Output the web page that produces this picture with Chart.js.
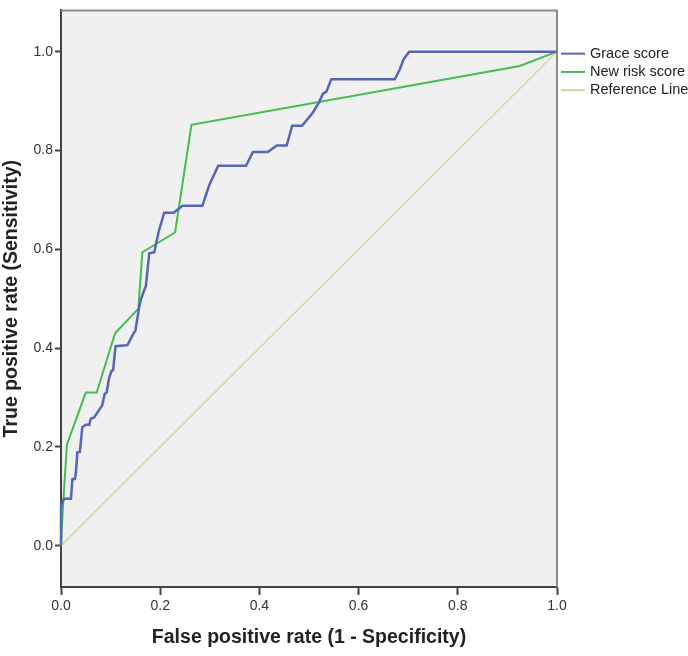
<!DOCTYPE html>
<html><head><meta charset="utf-8">
<script src="https://cdn.jsdelivr.net/npm/chart.js@4/dist/chart.umd.min.js"></script>
<style>html,body{margin:0;padding:0;background:#fff}canvas{display:block}</style>
</head><body>
<canvas id="c" width="688" height="656"></canvas>
<script>
const seriesNames = ['Grace score', 'New risk score', 'Reference Line'];
const graceFpr = [0,0,0.006,0.02,0.023,0.028,0.03,0.033,0.038,0.043,0.05,0.057,0.06,0.067,0.083,0.088,0.092,0.097,0.102,0.105,0.11,0.134,0.147,0.15,0.158,0.161,0.168,0.171,0.178,0.188,0.197,0.208,0.227,0.245,0.285,0.299,0.317,0.373,0.387,0.417,0.435,0.455,0.466,0.486,0.508,0.52,0.528,0.535,0.545,0.673,0.683,0.691,0.702,1];
const graceTpr = [0,0.08,0.095,0.095,0.135,0.135,0.148,0.189,0.19,0.24,0.245,0.245,0.257,0.26,0.284,0.307,0.31,0.34,0.354,0.355,0.404,0.406,0.431,0.435,0.485,0.498,0.518,0.525,0.592,0.594,0.636,0.674,0.674,0.688,0.688,0.73,0.769,0.769,0.797,0.797,0.81,0.81,0.85,0.85,0.877,0.897,0.915,0.919,0.944,0.944,0.964,0.985,1,1];
const newFpr = [0,0.004,0.012,0.05,0.072,0.109,0.156,0.164,0.23,0.263,0.925,1];
const newTpr = [0,0.08,0.205,0.31,0.31,0.43,0.48,0.594,0.634,0.852,0.971,1];
const refFpr = [0,1];
const refTpr = [0,1];
const xTicks = [0,0.2,0.4,0.6,0.8,1.0];
const yTicks = [0,0.2,0.4,0.6,0.8,1.0];
const seriesColors = ['#5565b8', '#45bb52', '#d5d09f'];

const pts = (xs, ys) => xs.map((x, i) => ({x: x, y: ys[i]}));

Chart.defaults.font.family = '"Liberation Sans", Arial, sans-serif';

const framePlugin = {
  id: 'frame',
  beforeDraw(chart) {
    const a = chart.chartArea, ctx = chart.ctx;
    ctx.save();
    ctx.fillStyle = '#f0f0f0';
    ctx.fillRect(a.left, a.top, a.right - a.left, a.bottom - a.top);
    ctx.restore();
  },
  beforeDatasetsDraw(chart) {
    const a = chart.chartArea, ctx = chart.ctx;
    ctx.save();
    ctx.strokeStyle = '#8a8a8a';
    ctx.lineWidth = 2;
    ctx.beginPath();
    ctx.moveTo(a.left, a.top);
    ctx.lineTo(a.right, a.top);
    ctx.lineTo(a.right, a.bottom);
    ctx.stroke();
    ctx.restore();
  },
  afterDraw(chart) {
    const a = chart.chartArea, ctx = chart.ctx;
    const y0 = chart.scales.y.getPixelForValue(1) + 2;
    ctx.save();
    ctx.font = '14.5px "Liberation Sans", Arial, sans-serif';
    ctx.textBaseline = 'middle';
    ctx.textAlign = 'left';
    chart.data.datasets.forEach((ds, i) => {
      const y = y0 + i * 18.3;
      ctx.strokeStyle = ds.borderColor;
      ctx.lineWidth = 2;
      ctx.beginPath();
      ctx.moveTo(a.right + 4, y);
      ctx.lineTo(a.right + 28, y);
      ctx.stroke();
      ctx.fillStyle = '#222';
      ctx.fillText(ds.label, a.right + 33, y);
    });
    ctx.restore();
  }
};

new Chart(document.getElementById('c'), {
  type: 'scatter',
  data: {
    datasets: [
      {label: seriesNames[0], data: pts(graceFpr, graceTpr), showLine: true, borderColor: seriesColors[0], borderWidth: 2.5, pointRadius: 0, clip: false, order: 1},
      {label: seriesNames[1], data: pts(newFpr, newTpr), showLine: true, borderColor: seriesColors[1], borderWidth: 2, pointRadius: 0, clip: false, order: 2},
      {label: seriesNames[2], data: pts(refFpr, refTpr), showLine: true, borderColor: seriesColors[2], borderWidth: 1.3, pointRadius: 0, clip: false, order: 3}
    ]
  },
  options: {
    responsive: false,
    animation: false,
    events: [],
    layout: {padding: {left: 0, top: 9, right: 131, bottom: 0}},
    plugins: {legend: {display: false}, tooltip: {enabled: false}},
    scales: {
      x: {
        type: 'linear', min: 0, max: 1,
        afterBuildTicks: s => { s.ticks = xTicks.map(v => ({value: v})); },
        afterFit: s => { s.height = 69; },
        grid: {display: true, drawOnChartArea: false, drawTicks: true, tickLength: 8, tickColor: '#444', tickWidth: 2},
        border: {display: true, color: '#444', width: 2},
        ticks: {callback: v => Number(v).toFixed(1), color: '#333', font: {size: 14}, padding: 3, maxRotation: 0},
        title: {display: true, text: 'False positive rate (1 - Specificity)', color: '#222', font: {size: 19.5, weight: 'bold'}, padding: {top: 0, bottom: 7}}
      },
      y: {
        type: 'linear', min: -0.0835, max: 1.0835,
        afterBuildTicks: s => { s.ticks = yTicks.map(v => ({value: v})); },
        afterFit: s => { s.width = 61; },
        grid: {display: true, drawOnChartArea: false, drawTicks: true, tickLength: 6, tickColor: '#444', tickWidth: 2},
        border: {display: true, color: '#444', width: 2},
        ticks: {callback: v => Number(v).toFixed(1), color: '#333', font: {size: 14}, padding: 2},
        title: {display: true, text: 'True positive rate (Sensitivity)', color: '#222', font: {size: 19.5, weight: 'bold'}, padding: {top: 0, bottom: 0}}
      }
    }
  },
  plugins: [framePlugin]
});
</script>
</body></html>
